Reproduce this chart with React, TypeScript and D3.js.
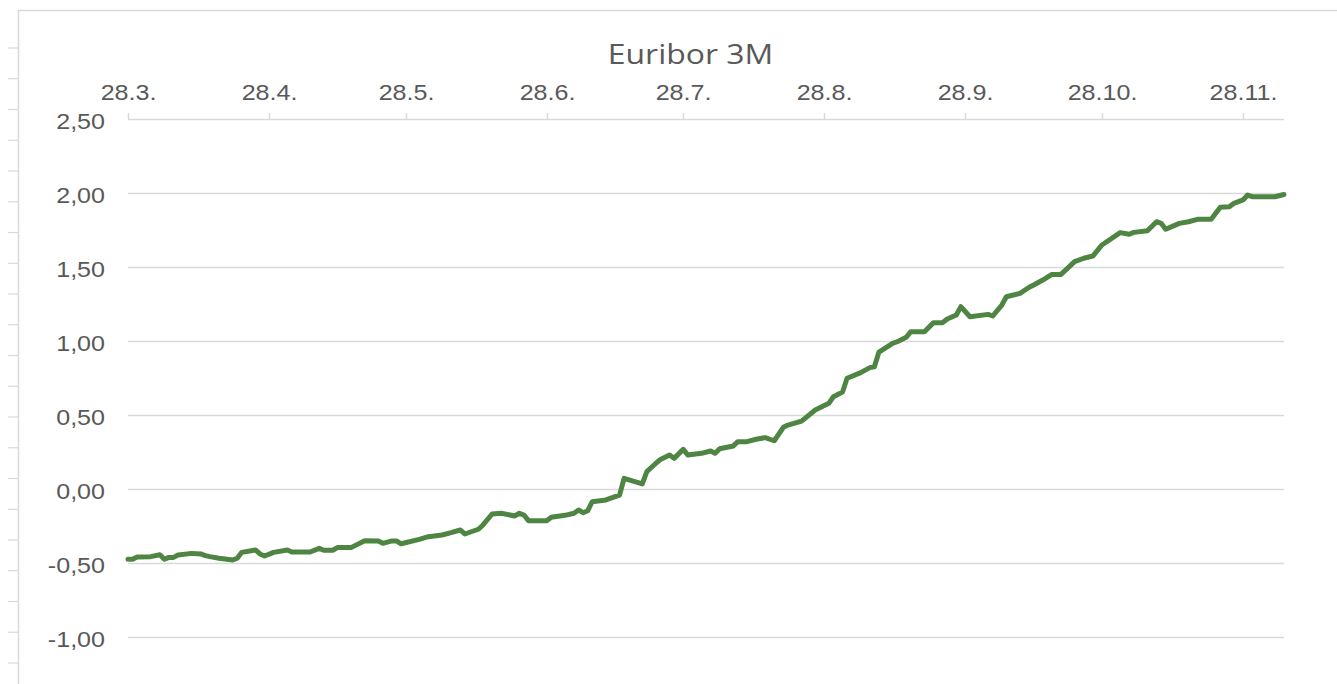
import React from "react";
import * as d3 from "d3";

const title = "Euribor 3M";

const dates: string[] = [
  "2022-03-28","2022-03-29","2022-03-30","2022-04-02","2022-04-04","2022-04-05","2022-04-06","2022-04-07","2022-04-08",
  "2022-04-11","2022-04-13","2022-04-14","2022-04-15","2022-04-17","2022-04-20","2022-04-21","2022-04-22","2022-04-25",
  "2022-04-26","2022-04-27","2022-04-29","2022-05-02","2022-05-03","2022-05-07","2022-05-09","2022-05-10","2022-05-12",
  "2022-05-13","2022-05-16","2022-05-19","2022-05-22","2022-05-23","2022-05-25","2022-05-26","2022-05-27","2022-05-31",
  "2022-06-02","2022-06-05","2022-06-07","2022-06-09","2022-06-10","2022-06-13","2022-06-14","2022-06-16","2022-06-18",
  "2022-06-21","2022-06-22","2022-06-23","2022-06-24","2022-06-28","2022-06-29","2022-07-02","2022-07-04","2022-07-05",
  "2022-07-06","2022-07-07","2022-07-08","2022-07-11","2022-07-14","2022-07-15","2022-07-19","2022-07-20","2022-07-22",
  "2022-07-23","2022-07-25","2022-07-26","2022-07-28","2022-07-29","2022-08-01","2022-08-03","2022-08-04","2022-08-05",
  "2022-08-08","2022-08-09","2022-08-11","2022-08-13","2022-08-15","2022-08-17","2022-08-19","2022-08-20","2022-08-23",
  "2022-08-26","2022-08-29","2022-08-30","2022-09-01","2022-09-02","2022-09-05","2022-09-07","2022-09-08","2022-09-09",
  "2022-09-12","2022-09-13","2022-09-15","2022-09-16","2022-09-19","2022-09-21","2022-09-23","2022-09-24","2022-09-26",
  "2022-09-27","2022-09-29","2022-10-03","2022-10-04","2022-10-06","2022-10-07","2022-10-10","2022-10-12","2022-10-13",
  "2022-10-15","2022-10-17","2022-10-19","2022-10-22","2022-10-24","2022-10-26","2022-10-28","2022-11-01","2022-11-03",
  "2022-11-04","2022-11-07","2022-11-09","2022-11-10","2022-11-11","2022-11-14","2022-11-16","2022-11-18","2022-11-21",
  "2022-11-23","2022-11-25","2022-11-26","2022-11-28","2022-11-29","2022-11-30","2022-12-05","2022-12-07",
];

const rates: number[] = [
  -0.475,-0.475,-0.46,-0.457,-0.444,-0.475,-0.462,-0.462,-0.446,
  -0.435,-0.439,-0.45,-0.457,-0.468,-0.48,-0.468,-0.428,-0.412,
  -0.439,-0.453,-0.428,-0.412,-0.426,-0.426,-0.401,-0.414,-0.414,
  -0.396,-0.396,-0.349,-0.351,-0.367,-0.351,-0.351,-0.37,-0.34,
  -0.322,-0.311,-0.295,-0.277,-0.304,-0.272,-0.243,-0.169,-0.164,
  -0.182,-0.164,-0.176,-0.214,-0.214,-0.191,-0.178,-0.164,-0.142,
  -0.16,-0.147,-0.086,-0.074,-0.041,0.072,0.034,0.117,0.174,
  0.2,0.23,0.207,0.268,0.23,0.241,0.257,0.241,0.272,
  0.291,0.32,0.32,0.336,0.347,0.326,0.417,0.432,0.459,
  0.534,0.579,0.624,0.655,0.748,0.786,0.82,0.826,0.925,
  0.984,0.995,1.025,1.063,1.063,1.124,1.124,1.149,1.176,
  1.232,1.164,1.18,1.169,1.243,1.299,1.322,1.363,1.378,
  1.412,1.45,1.45,1.536,1.559,1.574,1.649,1.732,1.721,
  1.734,1.745,1.806,1.795,1.755,1.795,1.806,1.822,1.822,
  1.903,1.907,1.93,1.953,1.986,1.975,1.975,1.99,
];

const xTickDates: string[] = [
  "2022-03-28","2022-04-28","2022-05-28","2022-06-28","2022-07-28",
  "2022-08-28","2022-09-28","2022-10-28","2022-11-28",
];
const yTicks: number[] = [2.5, 2.0, 1.5, 1.0, 0.5, 0.0, -0.5, -1.0];
const xStart = "2022-03-28";
const xEnd = "2022-12-07";

const W = 1337;
const H = 684;
const TEXT = "#595959";
const GRID = "#d9d9d9";
const LINE = "#4e8542";
const SX = 1.14;

export default function App() {
  const parse = d3.utcParse("%Y-%m-%d");
  const x = d3.scaleUtc().domain([parse(xStart)!, parse(xEnd)!]).range([128, 1284]);
  const y = d3.scaleLinear().domain([-1, 2.5]).range([637, 119]);
  const pts = dates.map((d, i) => ({ d: parse(d)!, v: rates[i] }));
  const line = d3
    .line<{ d: Date; v: number }>()
    .x((p) => x(p.d))
    .y((p) => y(p.v))
    .curve(d3.curveLinear);
  const fmtY = (v: number) => v.toFixed(2).replace(".", ",");
  const fmtX = d3.utcFormat("%-d.%-m.");
  const ruler = d3.range(0, 21).map((k) => 48 + k * 30.75);

  return (
    <svg
      width={W}
      height={H}
      style={{ position: "absolute", left: 0, top: 0, display: "block", background: "#fff" }}
    >
      {/* frame */}
      <line x1={18} x2={W} y1={10.5} y2={10.5} stroke={GRID} strokeWidth={1.5} />
      <line x1={18.5} x2={18.5} y1={10} y2={H} stroke={GRID} strokeWidth={1.5} />
      {ruler.map((ry, i) => (
        <line key={i} x1={8} x2={18} y1={ry} y2={ry} stroke={GRID} strokeWidth={1.2} />
      ))}

      {/* title */}
      <text
        transform={`translate(690.5,63.5) scale(${SX},1)`}
        textAnchor="middle"
        fontFamily="'Open Sans', sans-serif"
        fontSize={28}
        fill={TEXT}
      >
        {title}
      </text>

      {/* gridlines */}
      {yTicks.map((t) => (
        <line
          key={t}
          x1={128}
          x2={1284}
          y1={Math.round(y(t)) + 0.5}
          y2={Math.round(y(t)) + 0.5}
          stroke={GRID}
          strokeWidth={1.5}
        />
      ))}

      {/* top axis ticks */}
      {xTickDates.map((s) => {
        const xx = Math.round(x(parse(s)!)) + 0.5;
        return (
          <g key={s}>
            <line x1={xx} x2={xx} y1={113} y2={119} stroke={GRID} strokeWidth={1.5} />
            <text
              transform={`translate(${xx},99.5) scale(${SX},1)`}
              textAnchor="middle"
              fontFamily="'Liberation Sans', Arial, sans-serif"
              fontSize={22}
              fill={TEXT}
            >
              {fmtX(parse(s)!)}
            </text>
          </g>
        );
      })}

      {/* y labels */}
      {yTicks.map((t) => (
        <text
          key={t}
          transform={`translate(105,${y(t) + 9.5}) scale(${SX},1)`}
          textAnchor="end"
          fontFamily="'Liberation Sans', Arial, sans-serif"
          fontSize={22}
          fill={TEXT}
        >
          {fmtY(t)}
        </text>
      ))}

      {/* series */}
      <path
        d={line(pts) || ""}
        fill="none"
        stroke={LINE}
        strokeWidth={5}
        strokeLinejoin="round"
        strokeLinecap="round"
      />
    </svg>
  );
}
